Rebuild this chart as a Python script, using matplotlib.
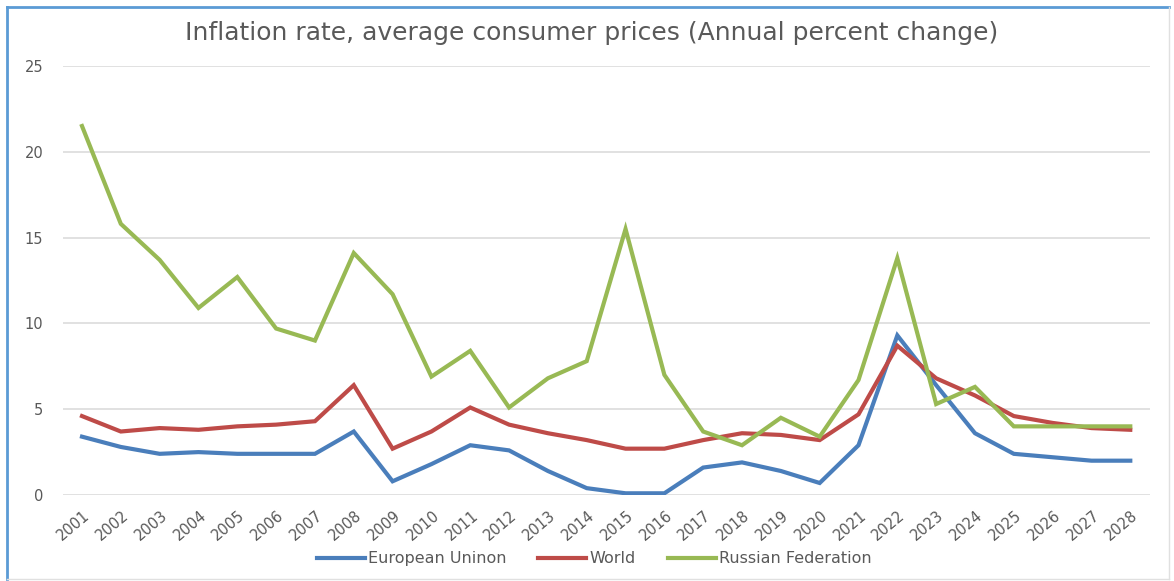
import matplotlib
matplotlib.use("Agg")
import matplotlib.pyplot as plt
from matplotlib.lines import Line2D
from matplotlib.transforms import ScaledTranslation

years = [str(y) for y in range(2001, 2029)]
eu = [3.4, 2.8, 2.4, 2.5, 2.4, 2.4, 2.4, 3.7, 0.8, 1.8, 2.9, 2.6, 1.4, 0.4,
      0.1, 0.1, 1.6, 1.9, 1.4, 0.7, 2.9, 9.3, 6.4, 3.6, 2.4, 2.2, 2.0, 2.0]
world = [4.6, 3.7, 3.9, 3.8, 4.0, 4.1, 4.3, 6.4, 2.7, 3.7, 5.1, 4.1, 3.6, 3.2,
         2.7, 2.7, 3.2, 3.6, 3.5, 3.2, 4.7, 8.7, 6.8, 5.8, 4.6, 4.2, 3.9, 3.8]
russia = [21.5, 15.8, 13.7, 10.9, 12.7, 9.7, 9.0, 14.1, 11.7, 6.9, 8.4, 5.1, 6.8, 7.8,
          15.5, 7.0, 3.7, 2.9, 4.5, 3.4, 6.7, 13.8, 5.3, 6.3, 4.0, 4.0, 4.0, 4.0]
series_names = ["European Uninon", "World", "Russian Federation"]
yticks = [0, 5, 10, 15, 20, 25]
title = "Inflation rate, average consumer prices (Annual percent change)"

plt.rcParams['font.family'] = ['DejaVu Sans']
grey = '#595959'

fig = plt.figure(figsize=(11.74, 5.81), dpi=100)
ax = fig.add_axes([0.0533, 0.148, 0.926, 0.7385])

x = list(range(len(years)))
colors = ['#4a7ebb', '#be4b48', '#98b954']
for vals, name, c in zip([eu, world, russia], series_names, colors):
    ax.plot(x, vals, color=c, lw=3.0, label=name, solid_joinstyle='miter')

ax.set_xlim(-0.5, len(years) - 0.5)
ax.set_ylim(0, 25)
ax.set_yticks(yticks)
ax.set_yticklabels([str(t) for t in yticks])
ax.set_xticks(x)
ax.set_xticklabels(years, rotation=40, ha='right', rotation_mode='anchor')
ax.tick_params(axis='both', length=0, colors=grey, labelsize=10.5)
ax.tick_params(axis='y', pad=14)
ax.tick_params(axis='x', pad=9)
offset = ScaledTranslation(1 / 100, 0, fig.dpi_scale_trans)
for lab in ax.get_xticklabels():
    lab.set_transform(lab.get_transform() + offset)
ax.grid(axis='y', color='#d9d9d9', lw=1.1)
ax.set_axisbelow(True)
for s in ax.spines.values():
    s.set_visible(False)

fig.text(0.504, 0.943, title, ha='center', va='center', fontsize=18, color=grey)

leg = fig.legend(loc='center', bbox_to_anchor=(0.506, 0.038), ncol=3, frameon=False,
                 fontsize=11.5, handlelength=3.0, handletextpad=0.2, columnspacing=2.0)
for t in leg.get_texts():
    t.set_color(grey)

# outer chart border
fig.add_artist(Line2D([0.006, 0.996], [0.988, 0.988], color='#5b9bd5', lw=2, transform=fig.transFigure))
fig.add_artist(Line2D([0.006, 0.006], [0.003, 0.988], color='#5b9bd5', lw=2, transform=fig.transFigure))
fig.add_artist(Line2D([0.996, 0.996], [0.003, 0.988], color='#e0e0e0', lw=1, transform=fig.transFigure))
fig.add_artist(Line2D([0.006, 0.996], [0.004, 0.004], color='#e0e0e0', lw=1, transform=fig.transFigure))

fig.savefig("out.png", dpi=100)
